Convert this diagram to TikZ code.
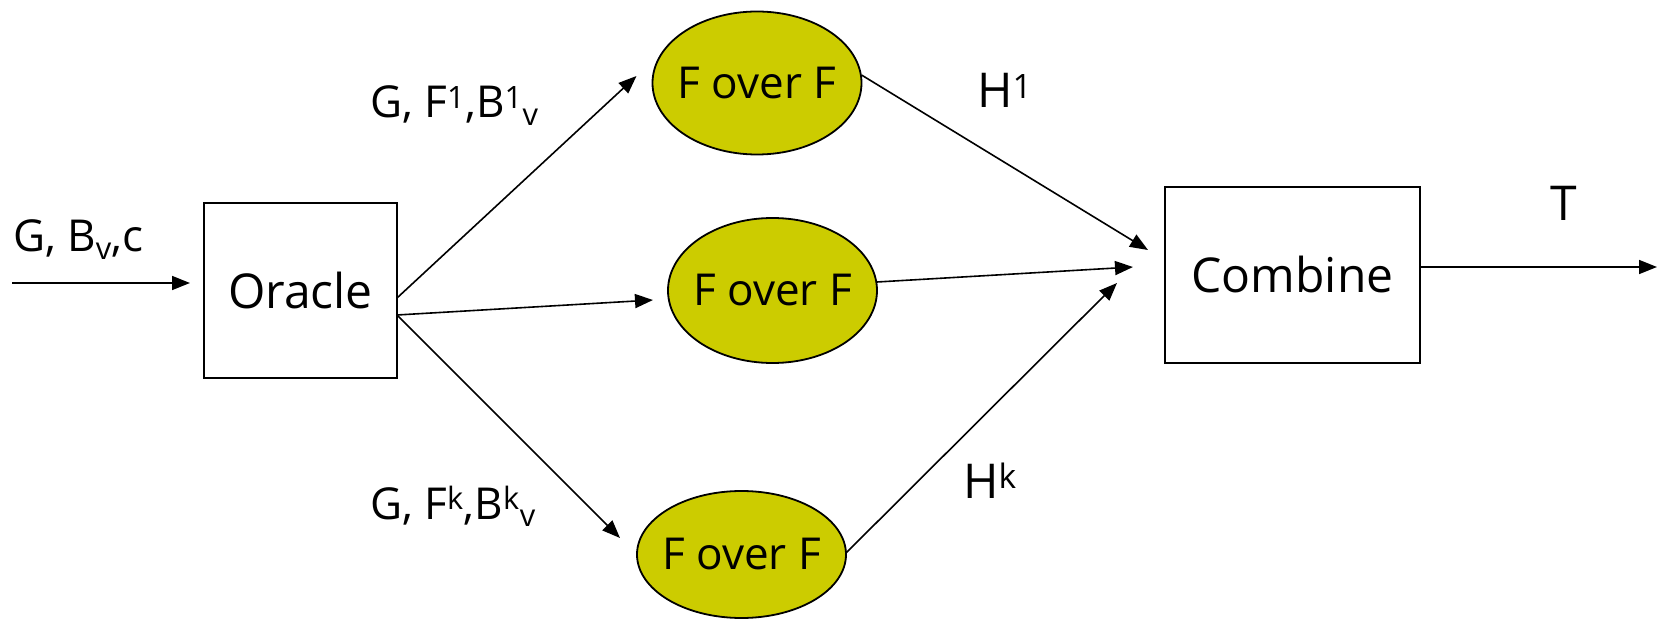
\documentclass[tikz,border=0pt]{standalone}
\usepackage{fontspec}
\setmainfont{Open Sans}
\usetikzlibrary{shapes.geometric,arrows.meta,calc}
\definecolor{fofill}{RGB}{204,204,0}
\newcommand{\zerowidth}[1]{\makebox[0pt]{#1}}
\begin{document}
\begin{tikzpicture}[x=1pt,y=-1pt,
  box/.style={draw,line width=2.4pt,inner sep=0pt,outer sep=0pt,
    font=\fontsize{48}{58}\selectfont},
  blob/.style={ellipse,draw,line width=1.8pt,fill=fofill,inner sep=0pt,
    outer sep=0pt,minimum width=209pt,font=\fontsize{44}{54}\selectfont},
  lbl/.style={anchor=base west,inner sep=0pt,font=\fontsize{44}{52}\selectfont},
  big/.style={font=\fontsize{48}{58}\selectfont},
  link/.style={line width=1.6pt,-{Triangle[length=18pt,width=14pt]}}]
\useasboundingbox (0,0) rectangle (1658,620);

% main blocks
\node[box,minimum width=193pt,minimum height=175pt] (o) at (300.5,290.5) {Oracle};
\node[box,minimum width=255pt,minimum height=176pt] (c) at (1292.5,275) {Combine};

% parallel workers (text kept out of the ellipse size)
\node[blob,minimum height=143pt] (e1) at (757,83) {\zerowidth{F over F}};
\node[blob,minimum height=145pt] (e2) at (772.5,290.5) {\zerowidth{F over F}};
\node[blob,minimum height=127pt] (e3) at (741.5,554.5) {\zerowidth{F over F}};

% free ends of the input and output arrows
\coordinate (in) at (12,283);
\coordinate (out) at (1657,267);

% labels
\node[lbl] (l0) at (13,252) {G, B\textsubscript{v},c};
\node[lbl] (l1) at (370,118) {G, F\textsuperscript{1},B\textsuperscript{1}\textsubscript{v}};
\node[lbl] (lk) at (370,519) {G, F\textsuperscript{k},B\textsuperscript{k}\textsubscript{v}};
\node[lbl,big] (h1) at (977,108) {H\textsuperscript{1}};
\node[lbl,big] (hk) at (963,498) {H\textsuperscript{k}};
\node[lbl,big] (t) at (1550,221) {T};

% connectors
\draw[link] (in) -- ($(o.west)+(-14,-7.5)$);
\draw[link] ($(o.east)+(0,7.5)$) -- ($(e1.west)+(-16,-7)$);
\draw[link] ($(o.east)+(0,24.5)$) -- ($(e2.west)+(-15,9.5)$);
\draw[link] ($(o.east)+(0,24.5)$) -- ($(e3.west)+(-17,-16.5)$);
\draw[link] ($(e1.east)+(0,-8)$) -- ($(c.west)+(-17,-25)$);
\draw[link] ($(e2.east)+(0,-8.5)$) -- ($(c.west)+(-32,-8)$);
\draw[link] ($(e3.east)+(0,-1.5)$) -- ($(c.west)+(-48,8)$);
\draw[link] ($(c.east)+(0,-8)$) -- (out);
\end{tikzpicture}
\end{document}
